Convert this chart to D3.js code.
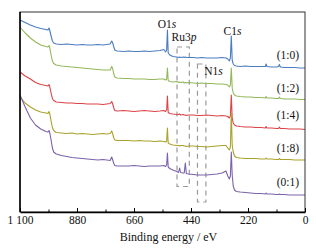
<!DOCTYPE html>
<html><head><meta charset="utf-8">
<script src="https://cdn.jsdelivr.net/npm/d3@7"></script>
<style>html,body{margin:0;padding:0;background:#fff;}svg{display:block;}</style>
</head><body>
<script>
// Binding energy grid (eV)
const energy = [
 1100,1080,1060,1040,1020,1000,992,988,985,980,
 975,970,960,940,920,900,880,860,840,820,
 800,780,765,752,746,742,738,734,725,700,
 680,660,640,620,600,580,560,545,538,534,
 531,528,522,510,495,488,484,480,470,466,
 462,458,450,430,415,400,380,360,340,320,
 305,298,292,288,284.5,281,277,272,265,250,
 230,210,190,170,153,150,147,130,110,102,
 99,95,80,60,40,20,0];
// Intensities (a.u., stacked offsets included)
const s10 = [
 192,189.5,187,185,183.5,182.5,182,184,181.5,176,
 171,169,168,167.5,168,167.5,167,167.5,167,167,
 167.5,167,167.5,168,171,169,165,162,161,160.5,
 161,160.5,160.5,161,160.5,161,161.5,162.5,160,162,
 182,159,157,155.5,155,154.5,155,154.5,155,154.5,
 155,154.5,154.5,154.5,154,154.5,154,154,154,154.5,
 154,153,151,154,176,152,148,146.5,146,145.5,
 146,145.5,145.5,145.5,145.5,148,145.5,145,145,145.5,
 147.5,145,144.5,144.5,144.5,144,144];
const s12 = [
 185,179,174,170,167,165.5,165,166.5,164,157,
 151,148.5,147,146,145.5,145,144.5,144,143.5,143,
 142.5,142,142,142,145.5,143,138,135,134,133.5,
 133.5,133,133,133,132.5,132.5,133,133,132,133,
 144,131.5,130.5,130,130.5,129.5,130,129.5,130,129,
 129.5,129,129.5,129,128.5,129,128.5,128.5,128,128,
 127.5,127,125,127,144,124,119,117,116,115.5,
 115,115,114.5,114.5,114,115.5,114,114,113.5,113.5,
 115,113.5,113,113,113,112.5,112.5];
const s14 = [
 140,136,133,129.5,127.5,126.5,126,127.5,125,119,
 113.5,111.5,110,109.5,109,109,108.5,108.5,108,108,
 108,107.5,108,108.5,110.5,108,104,101.5,101,101.5,
 101,100.5,101,101.5,101,100.5,101,101.5,100.5,102,
 116,99.5,98.5,98,97.5,97.5,98,97,97.5,97,
 97,96.5,97,97,96.5,96.5,97,96.5,96,96.5,
 96,95.5,94,96,117,94,89,87,86,85.5,
 85,85,84.5,84.5,84,85.5,84,84,83.5,83.5,
 85,83.5,83.5,83,83,83,82.5];
const s18 = [
 115,109,105,102,100,99,98.5,100.5,98,91,
 84.5,81.5,79.5,79,78.5,79,78,78.5,78,77.5,
 78,78.5,78,78.5,81,78,74,72,71.5,71.5,
 71.5,71,71.5,71,71,70.5,71,70.5,70,71,
 84,69,68,67,66.5,66.5,66,66.5,66.5,66,
 66,65.5,66,66,65.5,65.5,65,65.5,66,66.5,
 66.5,64,62,65,99,67,60,56,54.5,54,
 53.5,53.5,53.5,53,53,54,53,53,52.5,52.5,
 53.5,52.5,52.5,52.5,52,52,52];
const s01 = [
 117,105,94,87,83,80.5,80,81.5,79,72,
 64,60,58,56.5,55.5,54.5,54,53.5,53,52.5,
 52,52.5,52,51.5,55,52,48.5,46.5,46,46,
 46,46.5,46,45.5,46,46,46,46.5,45.5,47,
 59,45,43.5,42,40.5,39.5,44,39.5,39,39,
 49,38.5,38,37.5,37,37,37,37.5,38,39,
 41,36,33,36,60,37,26,22,20.5,20,
 19.5,19,18.5,18.5,18,19,18,18,17.5,17.5,
 18,17.5,17.5,17,17,17,17];

const seriesNames = ["(1:0)","(1:2)","(1:4)","(1:8)","(0:1)"];
const seriesData = [s10, s12, s14, s18, s01];
const seriesColors = ["#4a7cc0","#93b85a","#dc4347","#aba22c","#7b62aa"];
const seriesLabelY = [153.5, 120.5, 93.5, 60, 26];

const xTicks = [1100, 880, 660, 440, 220, 0];
const xMinorTicks = [990, 770, 550, 330, 110];

const peakLabels = [
  {main:"O1", ital:"s", e:533, v:184.3},
  {main:"Ru3", ital:"p", e:467, v:171.3},
  {main:"C1", ital:"s", e:280, v:177},
  {main:"N1", ital:"s", e:353, v:137.3}
];
// Dashed boxes: [E high, E low], [intensity top, intensity bottom]
const boxEnergy = [[494, 446.5], [415, 382.5]];
const boxLevel = [[165, 25.5], [148, 10]];

const W = 316, H = 249;
const m = {l:20, r:305, t:12, b:212};
const svg = d3.select("body").append("svg").attr("width", W).attr("height", H);
const x = d3.scaleLinear().domain([1100, 0]).range([m.l, m.r]);
const y = d3.scaleLinear().domain([0, 200]).range([m.b, m.t]);
const font = "'Liberation Serif','DejaVu Serif',serif";

// dashed boxes
boxEnergy.forEach((be, i) => {
  svg.append("rect")
    .attr("x", x(be[0])).attr("y", y(boxLevel[i][0]))
    .attr("width", x(be[1]) - x(be[0])).attr("height", y(boxLevel[i][1]) - y(boxLevel[i][0]))
    .attr("fill", "none").attr("stroke", "#9a9a9a").attr("stroke-width", 1.2)
    .attr("stroke-dasharray", "5,4");
});

const line = d3.line().x(d => x(d[0])).y(d => y(d[1]));
seriesData.forEach((s, i) => {
  svg.append("path")
    .datum(energy.map((e, j) => [e, s[j]]))
    .attr("d", line).attr("fill", "none")
    .attr("stroke", seriesColors[i]).attr("stroke-width", 1.1)
    .attr("stroke-linejoin", "round");
});

// frame
svg.append("rect").attr("x", m.l).attr("y", m.t).attr("width", m.r - m.l).attr("height", m.b - m.t)
  .attr("fill", "none").attr("stroke", "#333").attr("stroke-width", 1);
svg.append("line").attr("x1", m.l).attr("x2", m.l).attr("y1", m.t).attr("y2", m.b)
  .attr("stroke", "#000").attr("stroke-width", 1.5);

// axes
const ax = svg.append("g").attr("transform", `translate(0,${m.b})`)
  .call(d3.axisBottom(x).tickValues(xTicks).tickFormat(d => d >= 1000 ? "1 100" : String(d)).tickSizeInner(-4).tickSizeOuter(0).tickPadding(4));
ax.select(".domain").attr("stroke", "#000").attr("stroke-width", 1.5);
ax.selectAll("text").attr("font-family", font).attr("font-size", 11.5).attr("fill", "#111");
const axm = svg.append("g").attr("transform", `translate(0,${m.b})`)
  .call(d3.axisBottom(x).tickValues(xMinorTicks).tickFormat("").tickSizeInner(-2.5).tickSizeOuter(0));
axm.select(".domain").remove();

svg.append("text").attr("x", 168.5).attr("y", 241).attr("text-anchor", "middle")
  .attr("font-family", font).attr("font-size", 12).attr("fill", "#111")
  .text("Binding energy / eV");

// peak labels
peakLabels.forEach(p => {
  const t = svg.append("text").attr("x", x(p.e)).attr("y", y(p.v)).attr("text-anchor", "middle")
    .attr("font-family", font).attr("font-size", 11.5).attr("fill", "#111");
  t.append("tspan").text(p.main);
  t.append("tspan").attr("font-style", "italic").text(p.ital);
});

// series labels
seriesNames.forEach((n, i) => {
  svg.append("text").attr("x", 299).attr("y", y(seriesLabelY[i])).attr("text-anchor", "end")
    .attr("font-family", font).attr("font-size", 11.5).attr("fill", "#111").text(n);
});
</script>
</body></html>
